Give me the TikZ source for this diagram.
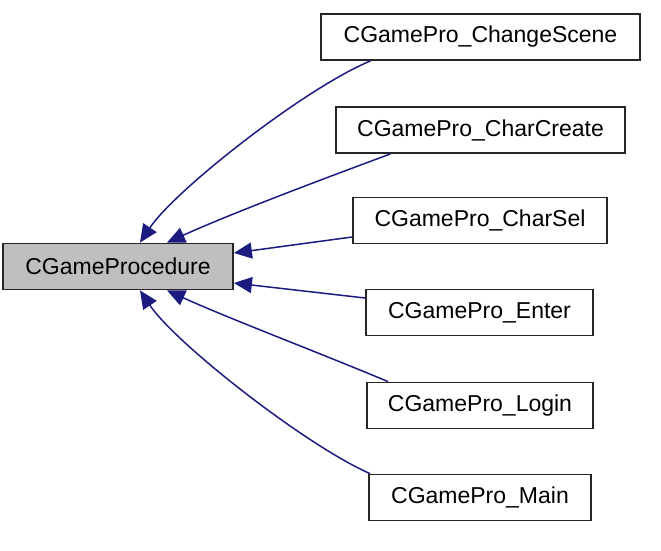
\documentclass[tikz,border=0pt]{standalone}
\usepackage{fontspec}
\setmainfont{Liberation Sans}
\usepackage{xcolor}
\usetikzlibrary{arrows.meta}
\definecolor{edgeblue}{HTML}{1C1C80}
\definecolor{basegray}{HTML}{BFBFBF}

\begin{document}
\begin{tikzpicture}[x=1pt,y=-1pt,
  classbox/.style={draw=black!85,line width=1.8pt,minimum height=46pt,inner sep=0pt,
    font=\fontsize{23}{23}\selectfont},
  inherit/.style={edgeblue,line width=1.5pt,-{Triangle[length=18pt,width=16pt]}}]
  \useasboundingbox (0,0) rectangle (661,550);
  % base class
  \node[classbox,fill=basegray,minimum width=230pt] (proc) at (118,266.5) {CGameProcedure};
  % derived classes
  \node[classbox,minimum width=319pt] (scene) at (480.5,37) {CGamePro\_ChangeScene};
  \node[classbox,minimum width=289pt] (create) at (480.5,130) {CGamePro\_CharCreate};
  \node[classbox,minimum width=254pt] (sel) at (480,220.5) {CGamePro\_CharSel};
  \node[classbox,minimum width=227pt] (enter) at (479.5,312.5) {CGamePro\_Enter};
  \node[classbox,minimum width=226pt] (login) at (480,405.5) {CGamePro\_Login};
  \node[classbox,minimum width=222pt] (main) at (480,497.5) {CGamePro\_Main};
  % inheritance edges
  \draw[inherit] ([xshift=-110pt]scene.south) .. controls (305,88) and (175,190) .. ([xshift=22pt]proc.north);
  \draw[inherit] ([xshift=-90pt]create.south) .. controls (320,180) and (230,214) .. ([xshift=49pt]proc.north);
  \draw[inherit] ([yshift=-16.5pt]sel.west) -- ([yshift=13.5pt]proc.east);
  \draw[inherit] ([yshift=14.5pt]enter.west) -- ([yshift=-16.5pt]proc.east);
  \draw[inherit] ([xshift=-92pt]login.north) .. controls (320,353) and (230,319) .. ([xshift=49pt]proc.south);
  \draw[inherit] ([xshift=-110pt]main.north) .. controls (305,445) and (175,343) .. ([xshift=22pt]proc.south);
\end{tikzpicture}
\end{document}
